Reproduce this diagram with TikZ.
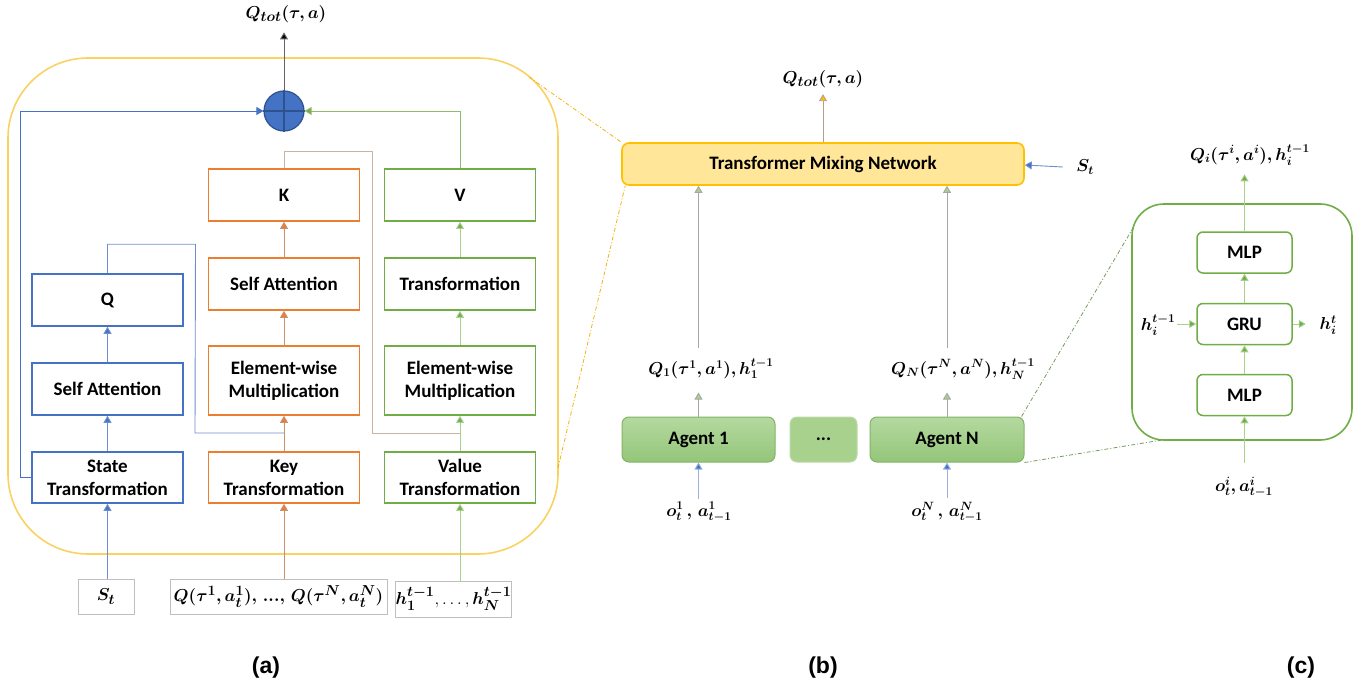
\documentclass[tikz,border=0pt]{standalone}
\usepackage{amsmath}
\usepackage{fontspec}
\usepackage{bm}
\setmainfont{Carlito}
\newfontfamily\arialb{Liberation Sans}
\usetikzlibrary{arrows.meta}
\definecolor{blueC}{HTML}{4472C4}
\definecolor{blueD}{HTML}{2F528F}
\definecolor{blueL}{HTML}{6F8FCF}
\definecolor{orangeC}{HTML}{ED7D31}
\definecolor{orangeL}{HTML}{C9906E}
\definecolor{tanC}{HTML}{C9B3A3}
\definecolor{greenC}{HTML}{70AD47}
\definecolor{greenL}{HTML}{A9D18E}
\definecolor{frameC}{HTML}{F9D262}
\definecolor{goldC}{HTML}{FFC000}
\definecolor{tmnF}{HTML}{FFE699}
\definecolor{grayL}{HTML}{BFBFBF}
\definecolor{grayA}{HTML}{A6A6A6}
\definecolor{agT}{HTML}{B5D9A0}
\definecolor{agB}{HTML}{93C679}
\definecolor{agD}{HTML}{82B366}
\begin{document}
\begin{tikzpicture}[x=1pt,y=-1pt,
  font=\fontsize{19}{23}\selectfont\bfseries,
  box/.style={draw, line width=1.6pt, fill=white, minimum width=151pt, align=center, inner sep=0pt},
  bbox/.style={box, draw=blueC},
  obox/.style={box, draw=orangeC},
  gbox/.style={box, draw=greenC},
  inbox/.style={draw=grayL, line width=0.8pt, minimum height=35pt, inner sep=0pt},
  bline/.style={draw=blueL, line width=0.9pt},
  oline/.style={draw=orangeL, line width=0.9pt},
  gline/.style={draw=greenL, line width=0.9pt},
  ddot/.style={line width=0.8pt, dash pattern=on 4pt off 2pt on 1pt off 2pt},
  agent/.style={draw=agD, line width=1pt, top color=agT, bottom color=agB, rounded corners=7pt, minimum height=45pt, inner sep=0pt},
  cbox/.style={draw=greenC, line width=1.5pt, rounded corners=6pt, minimum width=95pt, minimum height=41pt, inner sep=0pt},
  lab/.style={font=\fontsize{17}{20}\selectfont},
  qlab/.style={font=\fontsize{19}{22}\selectfont},
  capt/.style={font=\arialb\fontsize{23}{26}\selectfont\bfseries}
]
\useasboundingbox (0,0) rectangle (1369,685);

% ---------------- (a) ----------------
\draw[frameC, line width=1.6pt, rounded corners=80pt] (8,58) rectangle (558,554);

\node[bbox, minimum height=52pt] (Q)   at (107.5,300) {Q};
\node[bbox, minimum height=52pt] (SA1) at (107.5,389) {Self Attention};
\node[bbox, minimum height=51pt] (ST)  at (107.5,477.5) {State\\Transformation};

\node[obox, minimum height=52pt] (K)   at (284,195) {K};
\node[obox, minimum height=52pt] (SA2) at (284,284) {Self Attention};
\node[obox, minimum height=69pt] (EW1) at (284,380.5) {Element-wise\\Multiplication};
\node[obox, minimum height=51pt] (KT)  at (284,477.5) {Key\\Transformation};

\node[gbox, minimum height=52pt] (V)   at (460,195) {V};
\node[gbox, minimum height=52pt] (TR)  at (460,284) {Transformation};
\node[gbox, minimum height=69pt] (EW2) at (460,380.5) {Element-wise\\Multiplication};
\node[gbox, minimum height=51pt] (VT)  at (460,477.5) {Value\\Transformation};

\node[circle, fill=blueC, draw=blueD, line width=1.2pt, minimum size=40pt, inner sep=0pt] (plus) at (284,111) {};
\draw[blueD, line width=1.2pt] (plus.north) -- (plus.south) (plus.west) -- (plus.east);
\node[qlab] (qtotA) at (286,14) {$\bm{Q_{tot}(\tau,a)}$};
\draw[draw=grayA!60!black, line width=0.9pt, -{Triangle[width=8pt,length=7pt,fill=black]}] (plus.north) -- ++(0,-58);

% inputs
\node[inbox, minimum width=56pt] (inS) at (106,596.5) {$\bm{S_t}$};
\node[inbox, minimum width=217pt] (inQ) at (278.5,596.5) {$\bm{Q(\tau^1,a_t^1),}\,\bm{...}\bm{,}\,\bm{Q(\tau^N,a_t^N)}$};
\node[inbox, minimum width=111pt, minimum height=36pt] (inH) at (453.5,599) {$\bm{h_1^{t-1}},\ldots,\bm{h_N^{t-1}}$};

% blue column
\draw[bline, -{Triangle[width=8pt,length=7pt,fill=blueC]}] (inS.north -| ST.south) -- (ST.south);
\draw[bline, -{Triangle[width=8pt,length=7pt,fill=blueC]}] (ST.north) -- (SA1.south);
\draw[bline, -{Triangle[width=8pt,length=7pt,fill=blueC]}] (SA1.north) -- (Q.south);
\coordinate (stl) at (20,477.5);
\draw[bline, draw=blueC, -{Triangle[width=8pt,length=7pt,fill=blueC]}] (ST.west) -- (stl) -- (stl |- plus.west) -- (plus.west);
\coordinate (kj) at (284,433);
\draw[bline] (Q.north) -- ++(0,-29) -- ++(88,0) -- (195,433) -- (kj);

% orange column
\draw[oline, -{Triangle[width=8pt,length=7pt,fill=orangeC]}] (inQ.north -| KT.south) -- (KT.south);
\draw[oline, -{Triangle[width=8pt,length=7pt,fill=orangeC]}] (KT.north) -- (EW1.south);
\draw[oline, -{Triangle[width=8pt,length=7pt,fill=orangeC]}] (EW1.north) -- (SA2.south);
\draw[oline, -{Triangle[width=8pt,length=7pt,fill=orangeC]}] (SA2.north) -- (K.south);
\coordinate (vj) at (460,433);
\draw[draw=tanC, line width=0.9pt] (K.north) -- ++(0,-17) -- ++(88,0) -- (372,433) -- (vj);

% green column
\draw[gline, -{Triangle[width=8pt,length=7pt,fill=greenC]}] (inH.north -| VT.south) -- (VT.south);
\draw[gline, -{Triangle[width=8pt,length=7pt,fill=greenC]}] (VT.north) -- (EW2.south);
\draw[gline, -{Triangle[width=8pt,length=7pt,fill=greenC]}] (EW2.north) -- (TR.south);
\draw[gline, -{Triangle[width=8pt,length=7pt,fill=greenC]}] (TR.north) -- (V.south);
\draw[gline, draw=greenC!80, -{Triangle[width=8pt,length=7pt,fill=greenC]}] (V.north) -- (V.north |- plus.east) -- (plus.east);

\node[capt] (capa) at (266,668) {(a)};

% ---------------- (b) ----------------
\node[draw=goldC, fill=tmnF, line width=1.6pt, rounded corners=7pt, minimum width=402pt, minimum height=42pt, inner sep=0pt] (tmn) at (823,164) {Transformer Mixing Network};
\node[qlab] (qtotB) at (823,79) {$\bm{Q_{tot}(\tau,a)}$};
\draw[draw=grayA!80!orange, line width=0.9pt, -{Triangle[width=8pt,length=7pt,fill=goldC]}] (tmn.north) -- ++(0,-48);
\node[lab] (stb) at (1085,167) {$\bm{S_t}$};
\draw[draw=blueL, line width=0.9pt, -{Triangle[width=8pt,length=7pt,fill=blueC]}] ([xshift=-10pt]stb.west) -- (tmn.east |- 0,165);

\node[agent, minimum width=153pt] (ag1) at (698.5,439.5) {Agent 1};
\node[draw=greenL!80!white, line width=1pt, fill=greenL, rounded corners=7pt, minimum width=67pt, minimum height=45pt, inner sep=0pt] (dots) at (823.5,439.5) {...};
\node[agent, minimum width=154pt] (agN) at (947,439.5) {Agent N};

\node[lab] (q1) at (711,369) {$\bm{Q_1(\tau^1,a^1),h_1^{t-1}}$};
\node[lab] (qN) at (963,369) {$\bm{Q_N(\tau^N,a^N),h_N^{t-1}}$};
\draw[draw=grayA, line width=0.9pt, -{Triangle[width=8pt,length=7pt,fill=greenL]}] (ag1.north) -- ++(0,-24);
\draw[draw=grayA, line width=0.9pt, -{Triangle[width=8pt,length=7pt,fill=greenL]}] (agN.north) -- ++(0,-24);
\draw[draw=grayA, line width=0.9pt, -{Triangle[width=8pt,length=7pt,fill=greenL]}] (ag1.north |- 0,348) -- (ag1.north |- tmn.south);
\draw[draw=grayA, line width=0.9pt, -{Triangle[width=8pt,length=7pt,fill=greenL]}] (agN.north |- 0,348) -- (agN.north |- tmn.south);

\node[lab] (o1) at (699,512) {$\bm{o_t^1}\,\bm{,}\,\bm{a_{t-1}^1}$};
\node[lab] (oN) at (947,512) {$\bm{o_t^N}\,\bm{,}\,\bm{a_{t-1}^N}$};
\draw[draw=blueL!70, line width=0.9pt, -{Triangle[width=8pt,length=7pt,fill=blueC]}] (ag1.south |- o1.north) -- (ag1.south);
\draw[draw=blueL!70, line width=0.9pt, -{Triangle[width=8pt,length=7pt,fill=blueC]}] (agN.south |- oN.north) -- (agN.south);

\node[capt] (capb) at (823,668) {(b)};

% dash-dot zoom lines
\coordinate (fa1) at (529,77);
\coordinate (fa2) at (558,468);
\draw[ddot, draw=goldC!80!brown] (fa1) -- (tmn.north west);
\draw[ddot, draw=goldC!80!brown] (fa2) -- ([xshift=4pt]tmn.south west);

% ---------------- (c) ----------------
\draw[greenC, line width=1.6pt, rounded corners=32pt] (1132,204) rectangle (1352,440);
\coordinate (c1) at (1133,228);
\coordinate (c2) at (1162,440);
\draw[ddot, draw=greenC!60!gray] ([xshift=-3pt]agN.north east) -- (c1);
\draw[ddot, draw=greenC!60!gray] (agN.south east) -- (c2);

\node[cbox] (mlp1) at (1244.5,252.5) {MLP};
\node[cbox] (gru)  at (1244.5,324) {GRU};
\node[cbox] (mlp2) at (1244.5,395) {MLP};
\node[lab] (qi) at (1250,155) {$\bm{Q_i(\tau^i,a^i),h_i^{t-1}}$};
\node[lab] (hin) at (1158,325) {$\bm{h_i^{t-1}}$};
\node[lab] (hout) at (1328,325) {$\bm{h_i^{t}}$};
\node[lab] (oi) at (1244,487) {$\bm{o_t^i,a_{t-1}^i}$};
\draw[gline, -{Triangle[width=8pt,length=7pt,fill=greenC]}] (mlp2.north) -- (gru.south);
\draw[gline, -{Triangle[width=8pt,length=7pt,fill=greenC]}] (gru.north) -- (mlp1.south);
\draw[gline, -{Triangle[width=8pt,length=7pt,fill=greenC]}] (mlp1.north) -- ++(0,-57);
\draw[gline, -{Triangle[width=8pt,length=7pt,fill=greenC]}] (mlp2.south |- 0,463) -- (mlp2.south);
\draw[gline, -{Triangle[width=8pt,length=7pt,fill=greenC]}] (gru.west -| 1177,0) -- (gru.west);
\draw[gline, -{Triangle[width=8pt,length=7pt,fill=greenC]}] (gru.east) -- ++(13,0);

\node[capt] (capc) at (1301,668) {(c)};
\end{tikzpicture}
\end{document}
